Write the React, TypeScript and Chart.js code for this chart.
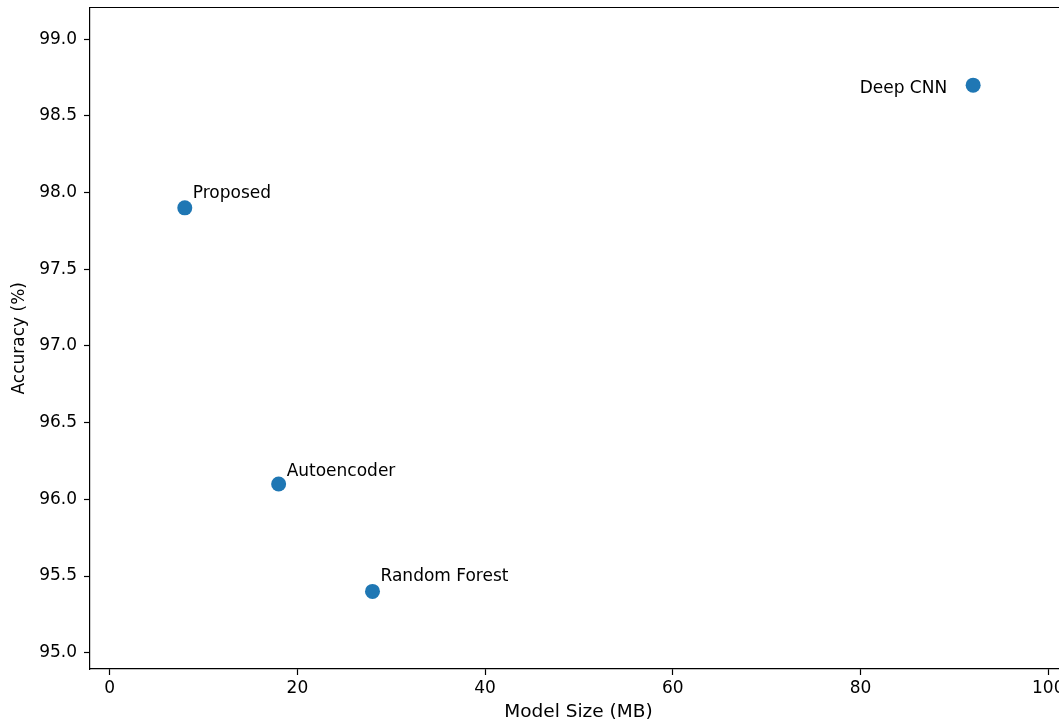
import React, { useEffect, useRef } from "react";
import { Chart, registerables } from "chart.js";

Chart.register(...registerables);

// Models compared: size on disk vs. test accuracy
const models = ["Proposed", "Autoencoder", "Random Forest", "Deep CNN"];
const modelSizeMB = [8, 18, 28, 92];
const accuracyPct = [97.9, 96.1, 95.4, 98.7];

const xTickValues = [0, 20, 40, 60, 80, 100];
const yTickValues = [95.0, 95.5, 96.0, 96.5, 97.0, 97.5, 98.0, 98.5, 99.0];

const FONT = "'DejaVu Sans', 'Liberation Sans', sans-serif";
const POINT_COLOR = "#1f77b4";

// Where each annotation sits relative to its marker (pixels)
const labelOffsets: Record<string, { dx: number; dy: number; align: CanvasTextAlign }> = {
  Proposed: { dx: 8, dy: -10, align: "left" },
  Autoencoder: { dx: 8, dy: -8, align: "left" },
  "Random Forest": { dx: 8, dy: -10, align: "left" },
  "Deep CNN": { dx: -26, dy: 7.5, align: "right" },
};

const annotatePlugin = {
  id: "annotateAndFrame",
  afterDatasetsDraw(chart: any) {
    const { ctx, chartArea, scales } = chart;
    ctx.save();
    // top and right spines
    ctx.strokeStyle = "#000";
    ctx.lineWidth = 1.2;
    ctx.beginPath();
    ctx.moveTo(chartArea.left, chartArea.top);
    ctx.lineTo(chartArea.right, chartArea.top);
    ctx.lineTo(chartArea.right, chartArea.bottom);
    ctx.stroke();
    // point labels
    ctx.fillStyle = "#000";
    ctx.font = `17px ${FONT}`;
    ctx.textBaseline = "alphabetic";
    models.forEach((name, i) => {
      const px = scales.x.getPixelForValue(modelSizeMB[i]);
      const py = scales.y.getPixelForValue(accuracyPct[i]);
      const o = labelOffsets[name];
      ctx.textAlign = o.align;
      ctx.fillText(name, px + o.dx, py + o.dy);
    });
    ctx.restore();
  },
};

export default function App() {
  const canvasRef = useRef<HTMLCanvasElement>(null);

  useEffect(() => {
    document.body.style.margin = "0";
    document.body.style.overflow = "hidden";
    const canvas = canvasRef.current!;
    const chart = new Chart(canvas, {
      type: "scatter",
      data: {
        datasets: [
          {
            label: "Models",
            data: models.map((_, i) => ({ x: modelSizeMB[i], y: accuracyPct[i] })),
            backgroundColor: POINT_COLOR,
            borderColor: POINT_COLOR,
            pointRadius: 7.5,
            pointHoverRadius: 7.5,
            borderWidth: 0,
          },
        ],
      },
      options: {
        animation: false,
        responsive: false,
        events: [],
        layout: { padding: { top: 6, right: 13, left: 0, bottom: 0 } },
        plugins: {
          legend: { display: false },
          tooltip: { enabled: false },
        },
        scales: {
          x: {
            type: "linear",
            min: -2.1,
            max: 102,
            afterBuildTicks: (scale: any) => {
              scale.ticks = xTickValues.map((v) => ({ value: v }));
            },
            afterFit: (scale: any) => {
              scale.height = 55;
            },
            grid: {
              drawOnChartArea: false,
              drawTicks: true,
              tickLength: 6,
              tickWidth: 1.2,
              tickColor: "#000",
            },
            border: { display: true, color: "#000", width: 1.2 },
            ticks: {
              color: "#000",
              font: { family: FONT, size: 17 },
              padding: 3,
              maxRotation: 0,
              callback: (v: any) => String(v),
            },
            title: {
              display: true,
              text: "Model Size (MB)",
              color: "#000",
              font: { family: FONT, size: 18.5 },
              padding: { top: 0, bottom: 1 },
            },
          },
          y: {
            type: "linear",
            min: 94.894,
            max: 99.206,
            afterBuildTicks: (scale: any) => {
              scale.ticks = yTickValues.map((v) => ({ value: v }));
            },
            afterFit: (scale: any) => {
              scale.width = 90;
              scale.paddingTop = 0;
              scale.paddingBottom = 0;
            },
            grid: {
              drawOnChartArea: false,
              drawTicks: true,
              tickLength: 6,
              tickWidth: 1.2,
              tickColor: "#000",
            },
            border: { display: true, color: "#000", width: 1.2 },
            ticks: {
              color: "#000",
              font: { family: FONT, size: 17 },
              padding: 7,
              callback: (v: any) => Number(v).toFixed(1),
            },
            title: {
              display: true,
              text: "Accuracy (%)",
              color: "#000",
              font: { family: FONT, size: 17 },
              padding: { top: 9, bottom: 0 },
            },
          },
        },
      },
      plugins: [annotatePlugin],
    });
    return () => chart.destroy();
  }, []);

  return (
    <div style={{ width: 1059, height: 724, overflow: "hidden", background: "#fff" }}>
      <canvas ref={canvasRef} width={1080} height={724} style={{ display: "block" }} />
    </div>
  );
}
